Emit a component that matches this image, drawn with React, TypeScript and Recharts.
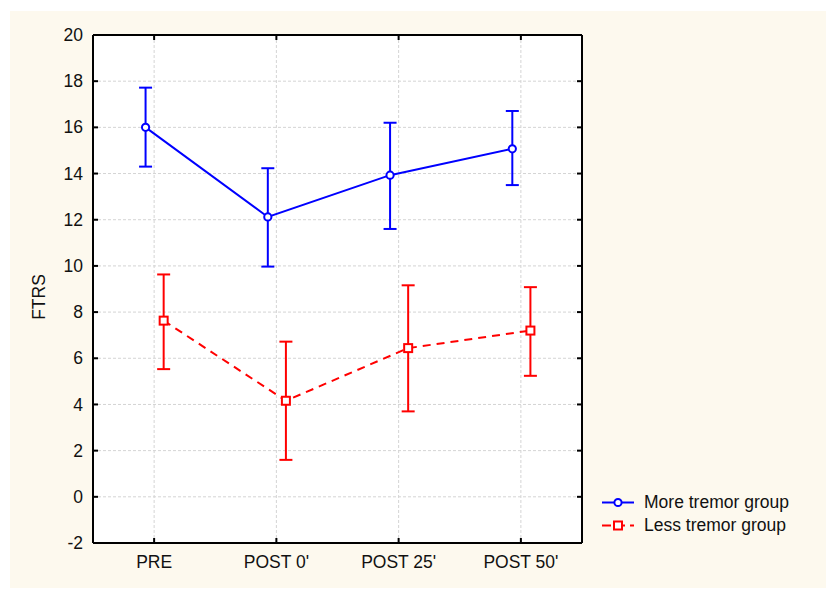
import React from 'react';
import { LineChart, Line, XAxis, YAxis, CartesianGrid, ErrorBar, ReferenceLine } from 'recharts';

// time points and y ticks
const categories = ['PRE', "POST 0'", "POST 25'", "POST 50'"];
const yTicks = [-2, 0, 2, 4, 6, 8, 10, 12, 14, 16, 18, 20];

// More tremor group (blue): means and error bar ends
const moreMean = [16.0, 12.12, 13.93, 15.07];
const moreLow = [14.3, 9.97, 11.6, 13.5];
const moreHigh = [17.72, 14.23, 16.2, 16.71];

// Less tremor group (red)
const lessMean = [7.63, 4.16, 6.44, 7.2];
const lessLow = [5.53, 1.6, 3.7, 5.24];
const lessHigh = [9.63, 6.72, 9.16, 9.08];

const MORE_SHIFT = -0.07;
const LESS_SHIFT = 0.078;
const FONT = "Arial, 'Liberation Sans', sans-serif";
const FS = 17.5;
const Y_GAP = 10;
const X_GAP = 13;

// chart box
const W = 818;
const H = 577;
const M = { top: 24, right: 246, left: 0, bottom: 0 };
const PLOT_RIGHT = W - M.right;
const PLOT_TOP = M.top;

const moreData = categories.map((c, i) => ({
  x: i + MORE_SHIFT,
  y: moreMean[i],
  err: [moreMean[i] - moreLow[i], moreHigh[i] - moreMean[i]],
}));
const lessData = categories.map((c, i) => ({
  x: i + LESS_SHIFT,
  y: lessMean[i],
  err: [lessMean[i] - lessLow[i], lessHigh[i] - lessMean[i]],
}));

// left labels + inner ticks on left and right frame
const LeftTick = (props: any) => {
  const { x, y, payload } = props;
  return (
    <g>
      <line x1={x + Y_GAP} x2={x + Y_GAP + 5} y1={y} y2={y} stroke="#000" strokeWidth={2} />
      <line x1={PLOT_RIGHT} x2={PLOT_RIGHT - 5} y1={y} y2={y} stroke="#000" strokeWidth={2} />
      <text x={x} y={y} dy="0.35em" textAnchor="end" fontSize={FS} fontFamily={FONT} fill="#111">
        {payload.value}
      </text>
    </g>
  );
};

// bottom labels + inner ticks on bottom and top frame
const BottomTick = (props: any) => {
  const { x, y, payload } = props;
  return (
    <g>
      <line x1={x} x2={x} y1={y - X_GAP} y2={y - X_GAP - 5} stroke="#000" strokeWidth={2} />
      <line x1={x} x2={x} y1={PLOT_TOP} y2={PLOT_TOP + 5} stroke="#000" strokeWidth={2} />
      <text x={x} y={y} dy="0.71em" textAnchor="middle" fontSize={FS} fontFamily={FONT} fill="#111">
        {categories[payload.value]}
      </text>
    </g>
  );
};

const CircleDot = (props: any) => {
  const { cx, cy, index } = props;
  return <circle key={`c-${index}`} cx={cx} cy={cy} r={3.6} fill="#fff" stroke="#0000ff" strokeWidth={2} />;
};

const SquareDot = (props: any) => {
  const { cx, cy, index } = props;
  return <rect key={`s-${index}`} x={cx - 4} y={cy - 4} width={8} height={8} fill="#fff" stroke="#ff0000" strokeWidth={2} />;
};

const YLabel = (props: any) => {
  const { viewBox } = props;
  const cx = viewBox.x + 29;
  const cy = viewBox.y + viewBox.height / 2 + 8;
  return (
    <text x={cx} y={cy} transform={`rotate(-90 ${cx} ${cy})`} textAnchor="middle" dy="0.35em"
      fontSize={FS} fontFamily={FONT} fill="#111">
      FTRS
    </text>
  );
};

function LegendBox() {
  const rows = [
    { name: 'More tremor group', color: '#0000ff', dash: undefined, shape: 'circle' },
    { name: 'Less tremor group', color: '#ff0000', dash: '9 5', shape: 'square' },
  ];
  return (
    <div style={{ position: 'absolute', left: 590, top: 480, fontFamily: FONT, fontSize: FS, color: '#111' }}>
      {rows.map((r) => (
        <div key={r.name} style={{ display: 'flex', alignItems: 'center', height: 23 }}>
          <svg width={34} height={23} style={{ marginRight: 10 }}>
            <line x1={2} x2={34} y1={11.5} y2={11.5} stroke={r.color} strokeWidth={2} strokeDasharray={r.dash} />
            {r.shape === 'circle' ? (
              <circle cx={18} cy={11.5} r={3.6} fill="#fff" stroke={r.color} strokeWidth={2} />
            ) : (
              <rect x={14} y={7.5} width={8} height={8} fill="#fff" stroke={r.color} strokeWidth={2} />
            )}
          </svg>
          <span>{r.name}</span>
        </div>
      ))}
    </div>
  );
}

export default function App() {
  return (
    <div style={{ padding: '3px 0 0 2px' }}>
      <div style={{ position: 'relative', width: W, height: H, background: '#fdf9ee' }}>
        <LineChart width={W} height={H} margin={M}>
          <CartesianGrid stroke="#d4d4d4" strokeDasharray="3 2" fill="#fff" />
          <XAxis
            dataKey="x"
            type="number"
            domain={[-0.5, 3.5]}
            ticks={[0, 1, 2, 3]}
            allowDataOverflow
            height={45}
            axisLine={{ stroke: '#000', strokeWidth: 2 }}
            tickLine={false}
            tickSize={0}
            tickMargin={X_GAP}
            tick={<BottomTick />}
            interval={0}
          />
          <YAxis
            type="number"
            domain={[-2, 20]}
            ticks={yTicks}
            allowDataOverflow
            width={83}
            axisLine={{ stroke: '#000', strokeWidth: 2 }}
            tickLine={false}
            tickSize={0}
            tickMargin={Y_GAP}
            tick={<LeftTick />}
            interval={0}
            label={<YLabel />}
          />
          {/* top and right frame */}
          <ReferenceLine y={20} stroke="#000" strokeWidth={2} ifOverflow="visible" />
          <ReferenceLine x={3.5} stroke="#000" strokeWidth={2} ifOverflow="visible" />
          <Line
            data={moreData}
            dataKey="y"
            type="linear"
            stroke="#0000ff"
            strokeWidth={2}
            dot={<CircleDot />}
            activeDot={false}
            isAnimationActive={false}
          >
            <ErrorBar dataKey="err" direction="y" width={6.5} stroke="#0000ff" strokeWidth={2} isAnimationActive={false} />
          </Line>
          <Line
            data={lessData}
            dataKey="y"
            type="linear"
            stroke="#ff0000"
            strokeWidth={2}
            strokeDasharray="8 6"
            dot={<SquareDot />}
            activeDot={false}
            isAnimationActive={false}
          >
            <ErrorBar dataKey="err" direction="y" width={6.5} stroke="#ff0000" strokeWidth={2} isAnimationActive={false} />
          </Line>
        </LineChart>
        <LegendBox />
      </div>
    </div>
  );
}
